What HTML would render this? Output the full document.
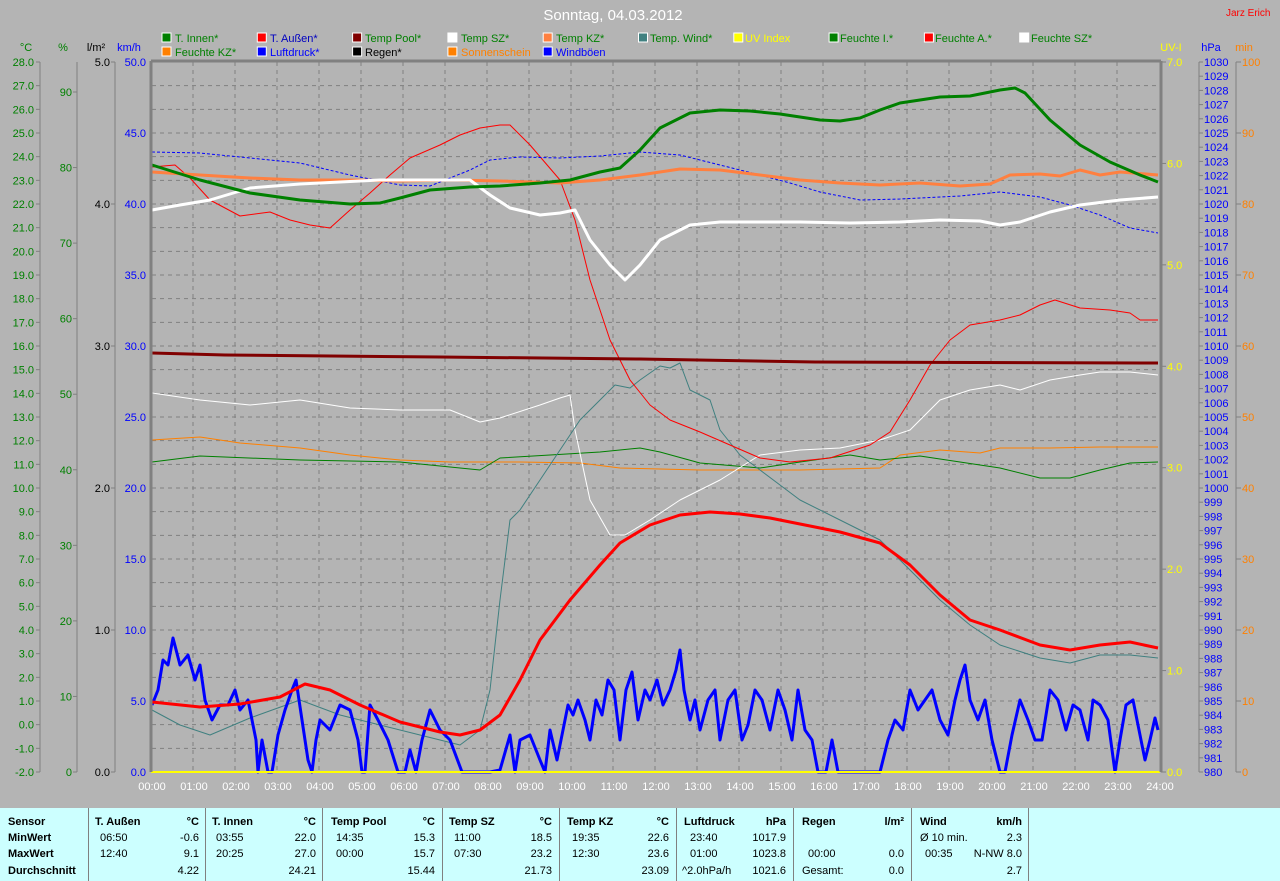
<!DOCTYPE html>
<html><head><meta charset="utf-8">
<style>
html,body{margin:0;padding:0;background:#b4b4b4;}
#wrap{position:relative;width:1280px;height:881px;overflow:hidden;background:#b4b4b4;font-family:"Liberation Sans",sans-serif;}
svg text{font-family:"Liberation Sans",sans-serif;font-size:11px;}
#tbl{position:absolute;left:0;top:808px;width:1280px;height:73px;background:#ccffff;font-family:"Liberation Sans",sans-serif;font-size:11px;color:#000;}
.c{position:absolute;top:0;height:73px;border-left:1px solid #808080;}
.t{position:absolute;white-space:nowrap;}
.b{font-weight:bold;}
</style></head><body>
<div id="wrap">
<svg id="s" width="1280" height="808" xmlns="http://www.w3.org/2000/svg" style="position:absolute;left:0;top:0">
<text x="613" y="20" fill="#ffffff" text-anchor="middle" style="font-size:15px">Sonntag, 04.03.2012</text>
<text x="1226" y="16" fill="#ff0000" style="font-size:10px">Jarz Erich</text>
<!-- legend -->
<g id="leg"></g>
<g style="font-size:11px">
<text x="175" y="42" fill="#008000">T. Innen*</text>
<text x="270" y="42" fill="#0000c0">T. Außen*</text>
<text x="365" y="42" fill="#008000">Temp Pool*</text>
<text x="461" y="42" fill="#008000">Temp SZ*</text>
<text x="556" y="42" fill="#008000">Temp KZ*</text>
<text x="650" y="42" fill="#008000">Temp. Wind*</text>
<text x="745" y="42" fill="#ffff00">UV Index</text>
<text x="840" y="42" fill="#008000">Feuchte I.*</text>
<text x="935" y="42" fill="#008000">Feuchte A.*</text>
<text x="1031" y="42" fill="#008000">Feuchte SZ*</text>
<text x="175" y="56" fill="#008000">Feuchte KZ*</text>
<text x="270" y="56" fill="#0000ff">Luftdruck*</text>
<text x="365" y="56" fill="#000000">Regen*</text>
<text x="461" y="56" fill="#ff8000">Sonnenschein</text>
<text x="556" y="56" fill="#0000ff">Windböen</text>
</g>
<!-- axis headers -->
<text x="26" y="51" fill="#008000" text-anchor="middle">°C</text>
<text x="63" y="51" fill="#008000" text-anchor="middle">%</text>
<text x="96" y="51" fill="#000" text-anchor="middle">l/m²</text>
<text x="129" y="51" fill="#0000ff" text-anchor="middle">km/h</text>
<text x="1171" y="51" fill="#ffff00" text-anchor="middle">UV-I</text>
<text x="1211" y="51" fill="#0000ff" text-anchor="middle">hPa</text>
<text x="1244" y="51" fill="#ff8000" text-anchor="middle">min</text>

<g id="grid" stroke="#808080" stroke-dasharray="4,4" stroke-width="1"></g>
<g id="ticks" stroke="#808080" stroke-width="1"></g>

<!-- axis labels -->
<g id="lc" fill="#008000" text-anchor="end"><text>28.0</text><text>27.0</text><text>26.0</text><text>25.0</text><text>24.0</text><text>23.0</text><text>22.0</text><text>21.0</text><text>20.0</text><text>19.0</text><text>18.0</text><text>17.0</text><text>16.0</text><text>15.0</text><text>14.0</text><text>13.0</text><text>12.0</text><text>11.0</text><text>10.0</text><text>9.0</text><text>8.0</text><text>7.0</text><text>6.0</text><text>5.0</text><text>4.0</text><text>3.0</text><text>2.0</text><text>1.0</text><text>0.0</text><text>-1.0</text><text>-2.0</text></g>
<g id="lp" fill="#008000" text-anchor="end"><text>90</text><text>80</text><text>70</text><text>60</text><text>50</text><text>40</text><text>30</text><text>20</text><text>10</text><text>0</text></g>
<g id="lr" fill="#000" text-anchor="end"><text>5.0</text><text>4.0</text><text>3.0</text><text>2.0</text><text>1.0</text><text>0.0</text></g>
<g id="lk" fill="#0000ff" text-anchor="end"><text>50.0</text><text>45.0</text><text>40.0</text><text>35.0</text><text>30.0</text><text>25.0</text><text>20.0</text><text>15.0</text><text>10.0</text><text>5.0</text><text>0.0</text></g>
<g id="lu" fill="#ffff00"><text>7.0</text><text>6.0</text><text>5.0</text><text>4.0</text><text>3.0</text><text>2.0</text><text>1.0</text><text>0.0</text></g>
<g id="lh" fill="#0000ff"><text>1030</text><text>1029</text><text>1028</text><text>1027</text><text>1026</text><text>1025</text><text>1024</text><text>1023</text><text>1022</text><text>1021</text><text>1020</text><text>1019</text><text>1018</text><text>1017</text><text>1016</text><text>1015</text><text>1014</text><text>1013</text><text>1012</text><text>1011</text><text>1010</text><text>1009</text><text>1008</text><text>1007</text><text>1006</text><text>1005</text><text>1004</text><text>1003</text><text>1002</text><text>1001</text><text>1000</text><text>999</text><text>998</text><text>997</text><text>996</text><text>995</text><text>994</text><text>993</text><text>992</text><text>991</text><text>990</text><text>989</text><text>988</text><text>987</text><text>986</text><text>985</text><text>984</text><text>983</text><text>982</text><text>981</text><text>980</text></g>
<g id="lm" fill="#ff8000"><text>100</text><text>90</text><text>80</text><text>70</text><text>60</text><text>50</text><text>40</text><text>30</text><text>20</text><text>10</text><text>0</text></g>
<g id="lx" fill="#ffffff" text-anchor="middle"><text>00:00</text><text>01:00</text><text>02:00</text><text>03:00</text><text>04:00</text><text>05:00</text><text>06:00</text><text>07:00</text><text>08:00</text><text>09:00</text><text>10:00</text><text>11:00</text><text>12:00</text><text>13:00</text><text>14:00</text><text>15:00</text><text>16:00</text><text>17:00</text><text>18:00</text><text>19:00</text><text>20:00</text><text>21:00</text><text>22:00</text><text>23:00</text><text>24:00</text></g>

<!-- series -->
<g fill="none" stroke-linejoin="round">
<polyline stroke="#ff8000" stroke-width="1" points="152,440 200,437 240,443 300,448 350,455 400,460 450,462 520,462 580,463 620,468 700,470 800,470 880,468 900,455 940,450 980,453 1000,448 1050,448 1100,447 1158,447"/>
<polyline stroke="#008000" stroke-width="1" points="152,462 200,456 300,460 400,462 480,470 500,458 550,455 600,452 640,448 660,452 700,463 760,468 800,462 850,455 880,460 920,456 960,462 1000,468 1040,478 1070,478 1100,470 1130,463 1158,462"/>
<polyline stroke="#ffffff" stroke-width="1" points="152,393 200,400 250,405 300,400 350,408 400,410 450,410 480,422 500,418 540,405 560,398 570,395 575,430 590,500 610,535 625,535 650,520 680,500 720,480 760,455 800,450 840,448 880,440 910,430 940,400 970,390 1000,385 1020,390 1050,380 1080,375 1100,372 1130,372 1158,375"/>
<polyline stroke="#408080" stroke-width="1" points="152,710 180,725 210,735 250,718 300,700 340,715 380,725 420,735 460,745 480,730 490,690 500,600 510,520 520,510 540,480 560,450 580,420 600,400 615,385 630,388 640,380 660,366 670,368 680,363 690,390 700,395 710,400 720,430 740,455 760,470 800,500 840,520 880,540 910,570 940,600 970,625 1000,645 1040,658 1070,663 1100,655 1130,655 1158,658"/>
<polyline stroke="#ff0000" stroke-width="1" points="152,167 175,165 190,178 210,200 240,216 270,212 290,220 310,225 330,228 350,210 370,193 390,175 410,158 440,145 460,135 480,128 500,125 510,125 530,145 560,180 575,220 590,280 610,340 630,380 650,405 670,420 700,432 730,445 760,458 790,462 830,458 870,445 890,432 910,400 930,365 950,340 970,325 1000,320 1020,315 1040,305 1055,300 1080,308 1110,310 1130,313 1140,320 1158,320"/>
<polyline stroke="#0000ff" stroke-width="1" stroke-dasharray="3,2" points="152,152 200,153 250,158 300,163 350,175 400,185 430,186 470,170 490,160 520,157 560,158 600,156 640,152 680,155 720,165 760,175 790,183 820,192 860,200 900,199 960,196 1000,192 1040,197 1070,205 1100,215 1130,228 1158,233"/>
<polyline stroke="#800000" stroke-width="3" points="152,353 225,355 440,357 640,359 815,362 1158,363"/>
<polyline stroke="#ff8040" stroke-width="3" points="152,172 200,175 250,178 300,180 350,180 400,181 450,180 500,181 560,183 600,180 640,175 680,169 720,170 760,175 800,180 840,183 880,185 920,183 960,186 990,184 1010,175 1040,174 1060,176 1080,170 1100,175 1120,172 1158,175"/>
<polyline stroke="#ffffff" stroke-width="3" points="152,210 180,205 210,200 250,188 300,184 340,182 380,180 420,180 470,180 490,195 510,208 540,215 560,213 575,210 590,240 610,265 625,280 640,265 660,240 690,225 720,222 760,222 800,222 850,223 900,222 940,220 980,221 1000,225 1020,222 1050,212 1080,205 1120,200 1158,197"/>
<polyline stroke="#008000" stroke-width="3" points="152,165 200,180 250,193 300,200 350,204 380,203 400,198 430,190 470,187 500,186 540,183 570,180 600,172 620,168 640,150 660,128 690,113 720,110 750,111 780,114 820,120 840,121 860,118 880,110 900,103 940,97 970,96 1000,90 1015,88 1025,93 1050,120 1080,145 1110,162 1140,175 1158,182"/>
<polyline stroke="#0000ff" stroke-width="3" points="152,705 158,690 163,660 168,665 173,638 180,665 188,655 195,680 200,665 205,700 212,720 220,705 228,705 235,690 240,710 248,700 256,740 258,772 262,740 268,772 272,772 278,735 285,710 292,690 296,680 302,720 308,760 312,772 316,740 320,720 330,730 340,705 350,710 358,740 362,772 365,772 370,705 378,720 388,740 398,772 405,772 410,750 416,772 422,740 430,710 440,730 450,740 462,772 470,772 490,772 500,770 510,735 515,772 520,740 530,735 540,760 545,772 550,730 557,760 562,735 568,705 573,715 578,700 585,720 590,740 596,700 602,715 608,680 614,690 620,740 626,690 632,672 638,720 645,690 650,700 657,680 663,705 670,690 676,670 680,650 684,690 690,720 695,700 700,730 708,700 715,690 720,740 728,700 735,690 742,740 748,725 755,690 762,700 770,730 778,690 785,710 792,740 798,690 805,730 812,740 818,772 826,772 832,740 838,772 880,772 888,740 895,720 903,730 910,690 918,710 925,700 932,690 940,720 948,735 955,700 960,680 965,665 970,700 978,720 985,700 992,740 1000,772 1005,772 1012,735 1020,700 1028,720 1035,740 1042,740 1050,690 1058,700 1066,730 1073,705 1080,710 1088,740 1093,700 1100,705 1108,720 1115,772 1120,740 1126,705 1133,700 1140,735 1145,760 1150,740 1155,718 1158,730"/>
<polyline stroke="#ff0000" stroke-width="3" points="152,702 200,707 240,704 280,697 305,684 330,690 360,705 400,722 440,732 460,735 480,730 500,715 520,680 540,640 570,600 600,565 620,543 650,525 680,515 710,512 740,514 770,518 800,524 840,532 880,543 910,565 940,595 970,620 1000,630 1040,645 1070,650 1100,645 1130,642 1158,648"/>
</g>
<line x1="151" y1="772" x2="1160" y2="772" stroke="#ffff00" stroke-width="2"/>
<line x1="151" y1="61" x2="1161" y2="61" stroke="#808080" stroke-width="3"/>
<line x1="151" y1="61" x2="151" y2="772" stroke="#808080" stroke-width="3"/>
<line x1="1161" y1="61" x2="1161" y2="772" stroke="#808080" stroke-width="3"/>
</svg>

<div id="tbl">
<div class="c" style="left:88px"></div><div class="c" style="left:205px"></div><div class="c" style="left:322px"></div><div class="c" style="left:442px"></div><div class="c" style="left:559px"></div><div class="c" style="left:676px"></div><div class="c" style="left:793px"></div><div class="c" style="left:911px"></div><div class="c" style="left:1028px"></div>
<div class="t b" style="left:8px;top:8px">Sensor</div>
<div class="t b" style="left:8px;top:24px">MinWert</div>
<div class="t b" style="left:8px;top:40px">MaxWert</div>
<div class="t b" style="left:8px;top:57px">Durchschnitt</div>

<div class="t b" style="left:95px;top:8px">T. Außen</div><div class="t b" style="right:1081px;top:8px">°C</div>
<div class="t" style="left:100px;top:24px">06:50</div><div class="t" style="right:1081px;top:24px">-0.6</div>
<div class="t" style="left:100px;top:40px">12:40</div><div class="t" style="right:1081px;top:40px">9.1</div>
<div class="t" style="right:1081px;top:57px">4.22</div>

<div class="t b" style="left:212px;top:8px">T. Innen</div><div class="t b" style="right:964px;top:8px">°C</div>
<div class="t" style="left:216px;top:24px">03:55</div><div class="t" style="right:964px;top:24px">22.0</div>
<div class="t" style="left:216px;top:40px">20:25</div><div class="t" style="right:964px;top:40px">27.0</div>
<div class="t" style="right:964px;top:57px">24.21</div>

<div class="t b" style="left:331px;top:8px">Temp Pool</div><div class="t b" style="right:845px;top:8px">°C</div>
<div class="t" style="left:336px;top:24px">14:35</div><div class="t" style="right:845px;top:24px">15.3</div>
<div class="t" style="left:336px;top:40px">00:00</div><div class="t" style="right:845px;top:40px">15.7</div>
<div class="t" style="right:845px;top:57px">15.44</div>

<div class="t b" style="left:449px;top:8px">Temp SZ</div><div class="t b" style="right:728px;top:8px">°C</div>
<div class="t" style="left:454px;top:24px">11:00</div><div class="t" style="right:728px;top:24px">18.5</div>
<div class="t" style="left:454px;top:40px">07:30</div><div class="t" style="right:728px;top:40px">23.2</div>
<div class="t" style="right:728px;top:57px">21.73</div>

<div class="t b" style="left:567px;top:8px">Temp KZ</div><div class="t b" style="right:611px;top:8px">°C</div>
<div class="t" style="left:572px;top:24px">19:35</div><div class="t" style="right:611px;top:24px">22.6</div>
<div class="t" style="left:572px;top:40px">12:30</div><div class="t" style="right:611px;top:40px">23.6</div>
<div class="t" style="right:611px;top:57px">23.09</div>

<div class="t b" style="left:684px;top:8px">Luftdruck</div><div class="t b" style="right:494px;top:8px">hPa</div>
<div class="t" style="left:690px;top:24px">23:40</div><div class="t" style="right:494px;top:24px">1017.9</div>
<div class="t" style="left:690px;top:40px">01:00</div><div class="t" style="right:494px;top:40px">1023.8</div>
<div class="t" style="left:682px;top:57px">^2.0hPa/h</div><div class="t" style="right:494px;top:57px">1021.6</div>

<div class="t b" style="left:802px;top:8px">Regen</div><div class="t b" style="right:376px;top:8px">l/m²</div>
<div class="t" style="left:808px;top:40px">00:00</div><div class="t" style="right:376px;top:40px">0.0</div>
<div class="t" style="left:802px;top:57px">Gesamt:</div><div class="t" style="right:376px;top:57px">0.0</div>

<div class="t b" style="left:920px;top:8px">Wind</div><div class="t b" style="right:258px;top:8px">km/h</div>
<div class="t" style="left:920px;top:24px">Ø 10 min.</div><div class="t" style="right:258px;top:24px">2.3</div>
<div class="t" style="left:925px;top:40px">00:35</div><div class="t" style="right:258px;top:40px">N-NW 8.0</div>
<div class="t" style="right:258px;top:57px">2.7</div>
</div>
</div>
<script>
var NS="http://www.w3.org/2000/svg";
function L(g,x1,y1,x2,y2){var l=document.createElementNS(NS,"line");l.setAttribute("x1",x1);l.setAttribute("y1",y1);l.setAttribute("x2",x2);l.setAttribute("y2",y2);g.appendChild(l);}
var grid=document.getElementById("grid"),tk=document.getElementById("ticks");
for(var k=1;k<24;k++){var x=151+42*k;L(grid,x,62,x,772);}
for(var k=1;k<30;k++){var y=62+710/30*k;L(grid,152,y,1160,y);}
L(tk,40,62,40,772);L(tk,77,62,77,772);L(tk,115,62,115,772);L(tk,1199,62,1199,772);L(tk,1236,62,1236,772);
function lab(id,x,y0,dy,tx1,tx2){var t=document.getElementById(id).children;for(var i=0;i<t.length;i++){var y=y0+dy*i;t[i].setAttribute("x",x);t[i].setAttribute("y",y+4);if(tx1!=null)L(tk,tx1,y,tx2,y);}}
lab("lc",34,62,710/30,36,40);
lab("lp",72,772-680,680/9,73,77);
lab("lr",110,62,142,111,115);
lab("lk",146,62,71,null,null);
lab("lu",1167,62,710/7,1161,1166);
lab("lh",1204,62,14.2,1199,1203);
lab("lm",1242,62,71,1236,1241);
var xs=document.getElementById("lx").children;for(var i=0;i<xs.length;i++){xs[i].setAttribute("x",152+42*i);xs[i].setAttribute("y",790);}
var leg=document.getElementById("leg");
var c1=["#008000","#ff0000","#800000","#ffffff","#ff8040","#408080","#ffff00","#008000","#ff0000","#ffffff"];
var c2=["#ff8000","#0000ff","#000000","#ff8000","#0000ff"];
function box(x,y,c){var r=document.createElementNS(NS,"rect");r.setAttribute("x",x);r.setAttribute("y",y);r.setAttribute("width",9);r.setAttribute("height",9);r.setAttribute("fill",c);r.setAttribute("stroke","#ffffff");leg.appendChild(r);}
for(var i=0;i<c1.length;i++)box(162+95.3*i,33,c1[i]);
for(var i=0;i<c2.length;i++)box(162+95.3*i,47,c2[i]);
</script>
</body></html>
